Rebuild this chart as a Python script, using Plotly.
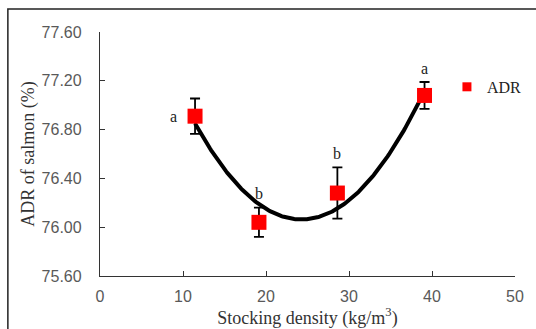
import numpy as np
import plotly.graph_objects as go

density = [11.45, 19.15, 28.6, 39.1]
adr = [76.91, 76.04, 76.28, 77.08]
adr_err = [0.145, 0.12, 0.21, 0.11]
letters = ["a", "b", "b", "a"]

x_ticks = [0, 10, 20, 30, 40, 50]
y_ticks = [75.6, 76.0, 76.4, 76.8, 77.2, 77.6]
y_tick_text = ["75.60", "76.00", "76.40", "76.80", "77.20", "77.60"]

# quadratic trendline fitted to the data
coef = np.polyfit(density, adr, 2)
xs = np.linspace(min(density), max(density), 200)
ys = np.polyval(coef, xs)

serif = "Liberation Serif, Times New Roman, serif"
sans = "Liberation Sans, Arial, sans-serif"

fig = go.Figure()
fig.add_trace(go.Scatter(x=xs, y=ys, mode="lines", line=dict(color="black", width=4),
                         showlegend=False, hoverinfo="skip"))
fig.add_trace(go.Scatter(
    x=density, y=adr, mode="markers", name="ADR",
    marker=dict(symbol="square", size=15, color="#ff0000"),
    error_y=dict(type="data", array=adr_err, color="black", thickness=1.8, width=5),
    showlegend=False))
# legend entry
fig.add_trace(go.Scatter(x=[None], y=[None], mode="markers", name="ADR",
                         marker=dict(symbol="square", size=9, color="#ff0000")))

# significance letters
for i, (xv, yv, e, t) in enumerate(zip(density, adr, adr_err, letters)):
    if i == 0:
        fig.add_annotation(x=xv - 2.6, y=yv, text=t, showarrow=False,
                           font=dict(family=serif, size=16, color="#222"))
    else:
        fig.add_annotation(x=xv, y=yv + e, text=t, showarrow=False, yshift=14,
                           font=dict(family=serif, size=16, color="#222"))

fig.update_layout(
    width=536, height=329,
    margin=dict(l=100, r=21, t=32, b=53, autoexpand=False),
    paper_bgcolor="white", plot_bgcolor="white",
    showlegend=True,
    legend=dict(x=0.836, y=0.775, xref="paper", yref="paper", xanchor="left", yanchor="middle",
                font=dict(family=serif, size=16, color="#222"),
                bgcolor="rgba(0,0,0,0)", itemwidth=30, tracegroupgap=0),
    xaxis=dict(range=[0, 50], tickvals=x_ticks, showline=True, linecolor="#333", linewidth=1.3,
               ticks="inside", ticklen=5, tickcolor="#333", showgrid=False, zeroline=False,
               automargin=False, ticklabelstandoff=6,
               tickfont=dict(family=sans, size=16, color="#595959"),
               title=dict(text="Stocking density (kg/m<sup>3</sup>)", standoff=0,
                          font=dict(family=serif, size=18, color="#333"))),
    yaxis=dict(range=[75.6, 77.6], tickvals=y_ticks, ticktext=y_tick_text, showline=True,
               linecolor="#333", linewidth=1.3, ticks="inside", ticklen=5, tickcolor="#333",
               showgrid=False, zeroline=False, automargin=False, ticklabelstandoff=14,
               tickfont=dict(family=sans, size=16, color="#595959"),
               title=dict(text="ADR of salmon (%)", standoff=2,
                          font=dict(family=serif, size=18, color="#333"))),
    shapes=[dict(type="rect", xref="paper", yref="paper", x0=-0.222, x1=1.2, y0=-0.3, y1=1.094,
                 line=dict(color="#222", width=1.5), fillcolor="rgba(0,0,0,0)", layer="below")],
)

fig.write_html("out.html", config={"displayModeBar": False},
               post_script="document.body.style.margin='0';document.body.style.overflow='hidden';")
